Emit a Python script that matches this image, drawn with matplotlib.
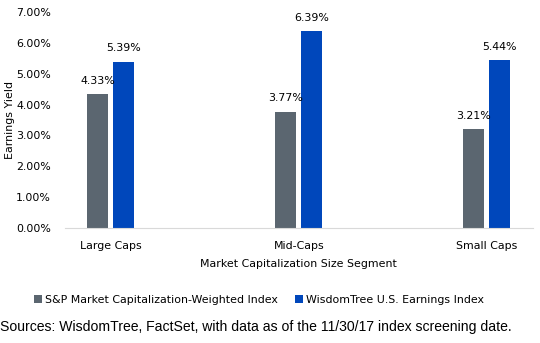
import matplotlib as mpl
mpl.use("Agg")
import matplotlib.pyplot as plt
import numpy as np

categories = ["Large Caps", "Mid-Caps", "Small Caps"]
spValues = [4.33, 3.77, 3.21]
wtValues = [5.39, 6.39, 5.44]
seriesNames = ["S&P Market Capitalization-Weighted Index", "WisdomTree U.S. Earnings Index"]
yTicks = [0, 1, 2, 3, 4, 5, 6, 7]

grayColor = "#5b6670"
blueColor = "#0047bb"
fs = 7.9

fig = plt.figure(figsize=(5.4, 3.43), dpi=100)
ax = fig.add_axes([0.12, 0.335, 0.867, 0.63])

x = np.arange(len(categories))
barWidth = 0.112
offset = 0.069
bars1 = ax.bar(x - offset, spValues, barWidth, color=grayColor, label=seriesNames[0])
bars2 = ax.bar(x + offset, wtValues, barWidth, color=blueColor, label=seriesNames[1])

for bars, values in ((bars1, spValues), (bars2, wtValues)):
  for b, v in zip(bars, values):
    ax.annotate("{:.2f}%".format(v), (b.get_x() + b.get_width() / 2, v),
        xytext=(0, 6), textcoords="offset points", ha="center", va="bottom", fontsize=fs)

ax.set_xlim(-0.245, 2.245)
ax.set_ylim(0, 7)
ax.set_yticks(yTicks)
ax.set_yticklabels(["{:.2f}%".format(t) for t in yTicks], fontsize=fs)
ax.set_xticks(x)
ax.set_xticklabels(categories, fontsize=fs)
ax.tick_params(axis="both", length=0)
ax.tick_params(axis="x", pad=9)
ax.tick_params(axis="y", pad=10)

for s in ("top", "right", "left"):
  ax.spines[s].set_visible(False)
ax.spines["bottom"].set_color("#d9d9d9")

ax.set_ylabel("Earnings Yield", fontsize=fs)
ax.yaxis.set_label_coords(-0.106, 0.5)
ax.set_xlabel("Market Capitalization Size Segment", fontsize=fs, labelpad=6)

fig.legend(loc="center", bbox_to_anchor=(0.48, 0.125), ncol=2, frameon=False, fontsize=fs,
    handlelength=0.7, handleheight=0.7, handletextpad=0.3, columnspacing=1.6)

fig.text(0.0, 0.048, "Sources: WisdomTree, FactSet, with data as of the 11/30/17 index screening date.",
    fontsize=10.1, family="Liberation Sans", va="center", ha="left")

fig.savefig("out.png", dpi=100)
